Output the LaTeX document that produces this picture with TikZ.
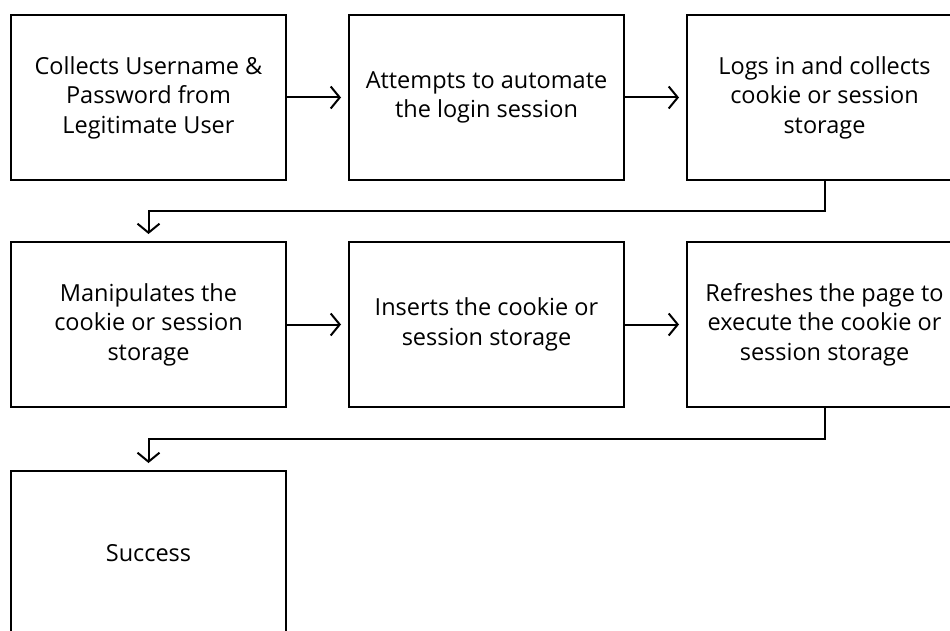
\documentclass[tikz,border=0pt]{standalone}
\usepackage{fontspec}
\setmainfont{Open Sans}
\usepackage{tikz}
\usetikzlibrary{arrows.meta}
\usetikzlibrary{positioning}

\begin{document}
\begin{tikzpicture}[
		every node/.style={draw, line width=2pt, minimum width=275pt, minimum height=165pt, outer sep=0pt,
			align=center, font=\fontsize{23.5}{29.5}\selectfont},
		flow/.style={line width=2pt, -{Straight Barb[length=9pt, width=22pt, line width=2pt]}, shorten >=8pt},
		node distance=63pt and 63pt
	]

	\useasboundingbox (0,0) rectangle (950pt,-631pt);
	\clip (0,0) rectangle (950pt,-631pt);

	% --- First row ---
	\node (collect) at (148.5pt,-97.5pt) {Collects Username \&\\Password from\\Legitimate User};
	\node (automate) [right=63pt of collect] {Attempts to automate\\the login session};
	\node (login) [right=63pt of automate] {Logs in and collects\\cookie or session\\storage};

	% --- Second row ---
	\node (manip) [below=62pt of collect] {Manipulates the\\cookie or session\\storage};
	\node (insert) [right=63pt of manip] {Inserts the cookie or\\session storage};
	\node (refresh) [right=63pt of insert] {Refreshes the page to\\execute the cookie or\\session storage};

	% --- Last row ---
	\node (success) [below=64pt of manip] {Success};

	% --- Arrows ---
	\draw[flow] (collect) -- (automate);
	\draw[flow] (automate) -- (login);
	\draw[flow] (login.south) -- ++(0,-31pt) -| (manip.north);
	\draw[flow] (manip) -- (insert);
	\draw[flow] (insert) -- (refresh);
	\draw[flow] (refresh.south) -- ++(0,-32pt) -| (success.north);

\end{tikzpicture}
\end{document}
